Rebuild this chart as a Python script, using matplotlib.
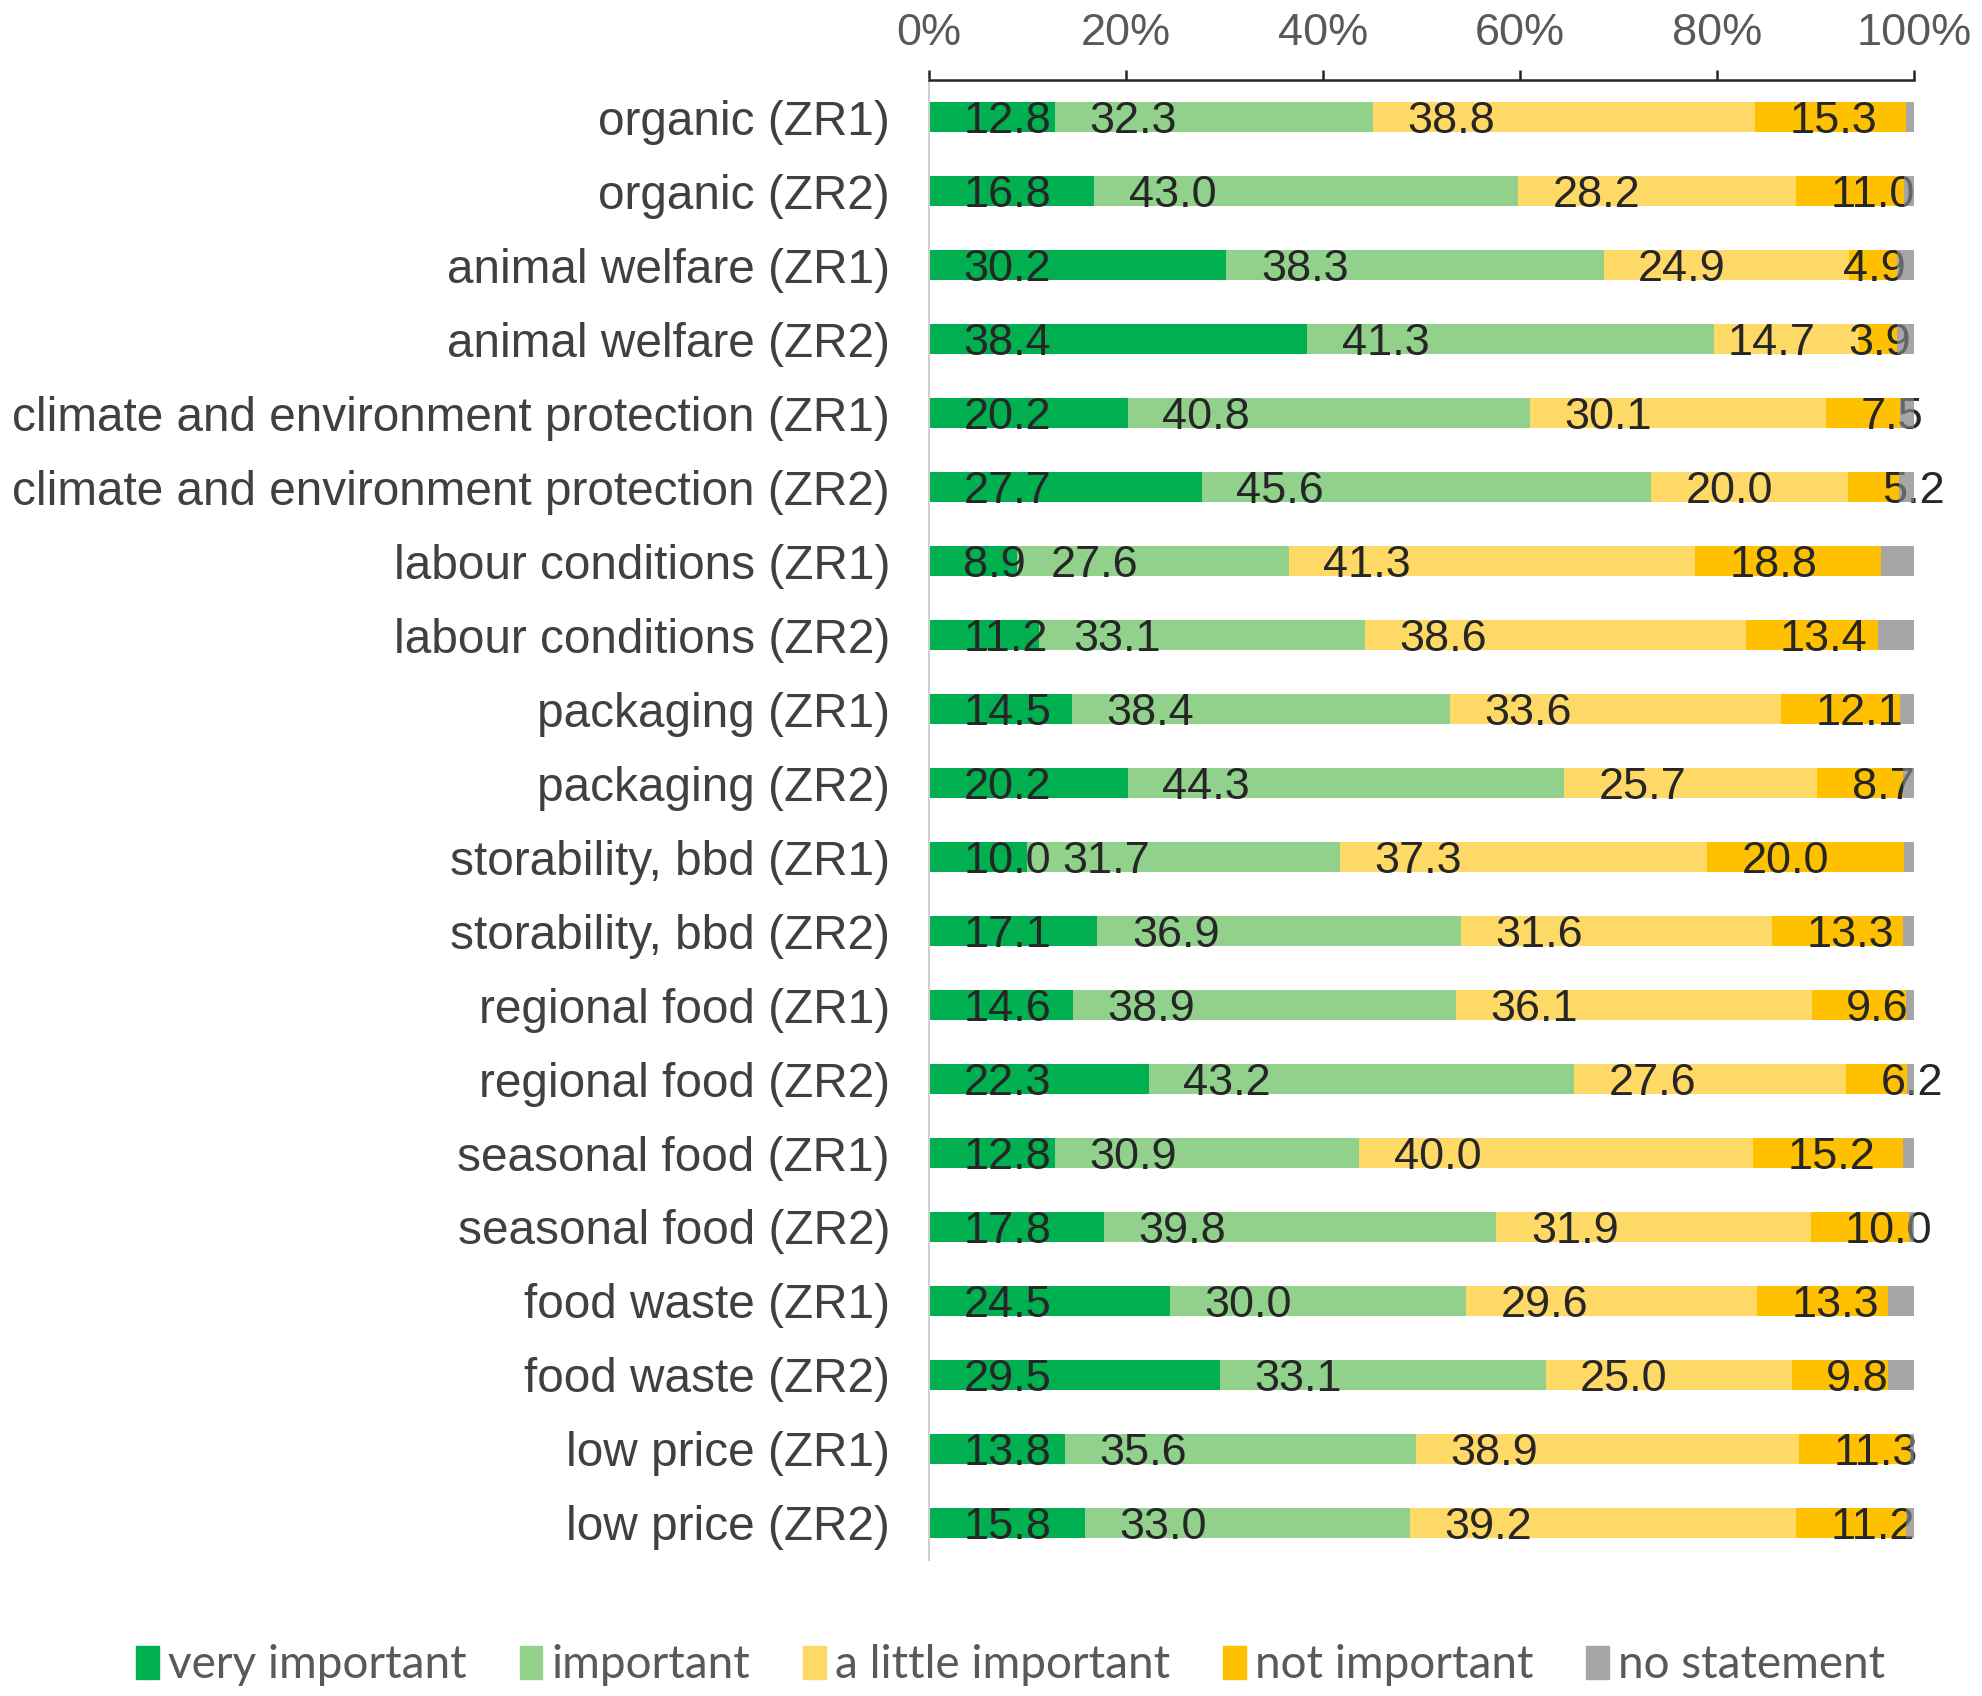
import matplotlib.pyplot as plt
import numpy as np

plt.rcParams['font.family'] = ['Liberation Sans', 'DejaVu Sans']

categories = [
    "organic (ZR1)", "organic (ZR2)",
    "animal welfare (ZR1)", "animal welfare (ZR2)",
    "climate and environment protection (ZR1)", "climate and environment protection (ZR2)",
    "labour conditions (ZR1)", "labour conditions (ZR2)",
    "packaging (ZR1)", "packaging (ZR2)",
    "storability, bbd (ZR1)", "storability, bbd (ZR2)",
    "regional food (ZR1)", "regional food (ZR2)",
    "seasonal food (ZR1)", "seasonal food (ZR2)",
    "food waste (ZR1)", "food waste (ZR2)",
    "low price (ZR1)", "low price (ZR2)",
]

very_important = [12.8, 16.8, 30.2, 38.4, 20.2, 27.7, 8.9, 11.2, 14.5, 20.2,
                  10.0, 17.1, 14.6, 22.3, 12.8, 17.8, 24.5, 29.5, 13.8, 15.8]
important = [32.3, 43.0, 38.3, 41.3, 40.8, 45.6, 27.6, 33.1, 38.4, 44.3,
             31.7, 36.9, 38.9, 43.2, 30.9, 39.8, 30.0, 33.1, 35.6, 33.0]
little_important = [38.8, 28.2, 24.9, 14.7, 30.1, 20.0, 41.3, 38.6, 33.6, 25.7,
                    37.3, 31.6, 36.1, 27.6, 40.0, 31.9, 29.6, 25.0, 38.9, 39.2]
not_important = [15.3, 11.0, 4.9, 3.9, 7.5, 5.2, 18.8, 13.4, 12.1, 8.7,
                 20.0, 13.3, 9.6, 6.2, 15.2, 10.0, 13.3, 9.8, 11.3, 11.2]
no_statement = [0.8, 1.0, 1.7, 1.7, 1.4, 1.5, 3.4, 3.7, 1.4, 1.1,
                1.0, 1.1, 0.8, 0.7, 1.1, 0.5, 2.6, 2.6, 0.4, 0.8]

series_names = ["very important", "important", "a little important",
                "not important", "no statement"]
colors = ["#00B050", "#92D18C", "#FFD966", "#FFC000", "#A6A6A6"]

series = [very_important, important, little_important, not_important, no_statement]

# a few labels were moved by hand in the original (row, series) -> x
label_x_fix = {(2, 3): 92.8, (3, 3): 93.3, (3, 2): 81.1}

fig = plt.figure(figsize=(19.82, 16.96), dpi=100)
ax = fig.add_axes([0.4687, 0.0802, 0.4970, 0.8726])

y = np.arange(len(categories))
left = np.zeros(len(categories))
for i, (vals, col) in enumerate(zip(series, colors)):
    vals = np.array(vals)
    if i == 4:
        # grey sits over the labels, partly see-through
        ax.barh(y, vals, left=left, height=0.4, color='#808080', alpha=0.7,
                zorder=5)
    else:
        ax.barh(y, vals, left=left, height=0.4, color=col, zorder=2)
    if i < 4:
        for r, (yy, l, v) in enumerate(zip(y, left, vals)):
            xpos = label_x_fix.get((r, i), l + 3.5)
            ax.annotate(f"{v:.1f}", xy=(xpos, yy), xytext=(0, -11.5),
                        textcoords='offset points', ha='left', va='baseline',
                        fontsize=32.5, color='#262626', zorder=4,
                        annotation_clip=False)
    left = left + vals

ax.set_xlim(0, 100)
ax.set_ylim(19.5, -0.5)
ax.set_yticks(y)
ax.set_yticklabels(categories, fontsize=34.4, color='#404040')
ax.set_xticks(np.arange(0, 101, 20))
ax.set_xticklabels([f"{t}%" for t in range(0, 101, 20)], fontsize=32.5, color='#595959')
ax.xaxis.tick_top()
ax.tick_params(axis='x', direction='out', length=7, width=1.8, color='#262626', pad=12)
ax.tick_params(axis='y', length=0, pad=28)

for s in ['right', 'bottom']:
    ax.spines[s].set_visible(False)
ax.spines['top'].set_linewidth(1.8)
ax.spines['top'].set_color('#262626')
ax.spines['left'].set_color('#D0D0D0')
ax.spines['left'].set_linewidth(1.5)

leg_handles = [plt.Rectangle((0, 0), 1, 1, color=c) for c in colors]
fig.legend(leg_handles, series_names, loc='center', bbox_to_anchor=(0.51, 0.018),
           ncol=5, frameon=False, prop={'family': ['Lato', 'DejaVu Sans'], 'size': 33},
           labelcolor='#595959', handlelength=0.5, handleheight=0.75,
           handletextpad=0.2, columnspacing=1.15)

fig.savefig("out.png", dpi=100)
